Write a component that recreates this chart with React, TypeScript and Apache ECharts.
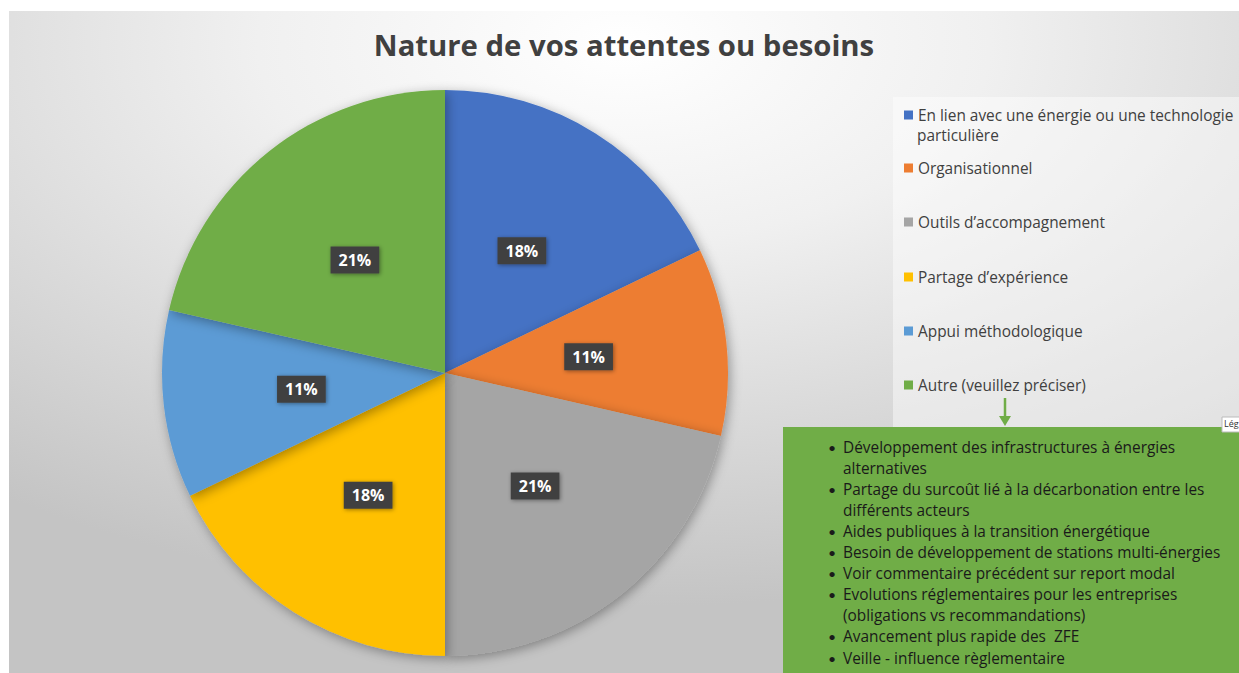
import React, { useEffect, useRef } from "react";
import * as echarts from "echarts";

const TITLE = "Nature de vos attentes ou besoins";
const categories = [
  "En lien avec une énergie ou une technologie particulière",
  "Organisationnel",
  "Outils d’accompagnement",
  "Partage d’expérience",
  "Appui méthodologique",
  "Autre (veuillez préciser)",
];
const counts = [5, 3, 6, 5, 3, 6];
const colors = ["#4472C4", "#ED7D31", "#A5A5A5", "#FFC000", "#5B9BD5", "#70AD47"];
const legendCenters = [107, 160, 214, 269, 323, 377];
const otherDetails = [
  ["Développement des infrastructures à énergies", "alternatives"],
  ["Partage du surcoût lié à la décarbonation entre les", "différents acteurs"],
  ["Aides publiques à la transition énergétique"],
  ["Besoin de développement de stations multi-énergies"],
  ["Voir commentaire précédent sur report modal"],
  ["Evolutions réglementaires pour les entreprises", "(obligations vs recommandations)"],
  ["Avancement plus rapide des  ZFE"],
  ["Veille - influence règlementaire"],
];

const FONT = "'Open Sans', Lato, sans-serif";
const TXT = 15.4;

export default function App() {
  const ref = useRef<HTMLDivElement>(null);
  useEffect(() => {
    if (!ref.current) return;
    const chart = echarts.init(ref.current, undefined, { renderer: "svg" });

    const legends = categories.map((name, i) => ({
      data: [name],
      orient: "vertical",
      left: 896,
      top: legendCenters[i] - 10,
      padding: 0,
      itemWidth: 9,
      itemHeight: 9,
      icon: "rect",
      selectedMode: false,
      formatter: (n: string) => (i === 0 ? "En lien avec une énergie ou une technologie" : n),
      textStyle: { fontFamily: FONT, fontSize: TXT, color: "#404040", lineHeight: 20 },
    }));

    const bulletEls: any[] = [];
    let lineIdx = 0;
    const lineStart = 439;
    const lineStep = 21.1;
    otherDetails.forEach((item) => {
      item.forEach((line, j) => {
        const y = lineStart + lineIdx * lineStep;
        if (j === 0) {
          bulletEls.push({
            type: "text",
            left: 820,
            top: y - 10,
            style: { text: "•", fontFamily: "Lato, sans-serif", fontSize: 14, fill: "#1a1a1a", lineHeight: 20 },
            z: 12,
          });
        }
        bulletEls.push({
          type: "text",
          left: 835,
          top: y - 10,
          style: { text: line, fontFamily: FONT, fontSize: TXT, fill: "#1a1a1a", lineHeight: 20 },
          z: 12,
        });
        lineIdx++;
      });
    });

    chart.setOption({
      animation: false,
      color: colors,
      graphic: [
        {
          type: "rect",
          shape: { x: 1, y: 3, width: 1230, height: 662 },
          style: {
            fill: new echarts.graphic.RadialGradient(0.5, 0.05, 0.85, [
              { offset: 0, color: "#ffffff" },
              { offset: 0.35, color: "#f0f0f0" },
              { offset: 1, color: "#c4c4c4" },
            ]),
          },
          z: -10,
        },
        {
          type: "rect",
          shape: { x: 885, y: 89, width: 346, height: 330 },
          style: { fill: "rgba(255,255,255,0.45)" },
          z: -5,
        },
        {
          type: "text",
          left: 909,
          top: 117,
          style: { text: "particulière", fontFamily: FONT, fontSize: TXT, fill: "#404040", lineHeight: 20 },
        },
        {
          type: "line",
          shape: { x1: 997, y1: 390, x2: 997, y2: 410 },
          style: { stroke: "#70AD47", lineWidth: 2.5 },
        },
        {
          type: "polygon",
          shape: { points: [[991, 408], [1003, 408], [997, 418]] },
          style: { fill: "#70AD47" },
        },
        {
          type: "rect",
          shape: { x: 775, y: 419, width: 456, height: 246 },
          style: { fill: "#70AD47" },
          z: 10,
        },
        ...bulletEls,
        {
          type: "rect",
          shape: { x: 1214, y: 409, width: 20, height: 15 },
          style: { fill: "#ffffff", stroke: "#bbbbbb", lineWidth: 1 },
          z: 15,
        },
        {
          type: "text",
          left: 1216,
          top: 411,
          style: { text: "Lég", fontFamily: FONT, fontSize: 9, fill: "#333333" },
          z: 16,
        },
      ],
      title: {
        text: TITLE,
        left: 611,
        top: 17,
        textAlign: "center",
        textStyle: { fontFamily: FONT, fontSize: 29.3, fontWeight: "bold", color: "#404040" },
      },
      legend: legends,
      series: [
        {
          type: "pie",
          center: [437, 365],
          radius: [0, 283],
          startAngle: 90,
          clockwise: true,
          avoidLabelOverlap: false,
          data: categories.map((name, i) => ({ name, value: counts[i] })),
          itemStyle: {
            shadowBlur: 12,
            shadowColor: "rgba(0,0,0,0.35)",
            shadowOffsetX: 2,
            shadowOffsetY: 3,
          },
          label: {
            show: true,
            position: "inside",
            formatter: (p: any) => `${Math.round(p.percent)}%`,
            backgroundColor: "#404040",
            color: "#ffffff",
            fontFamily: FONT,
            fontWeight: "bold",
            fontSize: 16,
            padding: [6, 8, 5, 8],
            shadowBlur: 4,
            shadowColor: "rgba(0,0,0,0.4)",
            shadowOffsetX: 1,
            shadowOffsetY: 1,
          },
          labelLine: { show: false },
          emphasis: { disabled: true },
        },
      ],
    });
    return () => chart.dispose();
  }, []);
  return (
    <div
      ref={ref}
      style={{ position: "absolute", left: 8, top: 8, width: 1231, height: 665 }}
    />
  );
}
